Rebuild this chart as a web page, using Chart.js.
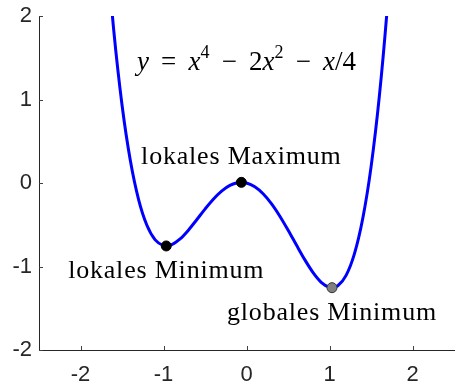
<!DOCTYPE html>
<html lang="de">
<head>
<meta charset="UTF-8">
<title>Extrema</title>
<script src="https://cdn.jsdelivr.net/npm/chart.js"></script>
<style>
  body { margin: 0; background: #fff; }
  #wrap { width: 460px; height: 386px; }
</style>
</head>
<body>
<div id="wrap"><canvas id="curveChart"></canvas></div>
<script>
  // sampled curve y = x^4 - 2x^2 - x/4
  const curveX = [-1.7, -1.6, -1.5, -1.4, -1.3, -1.2, -1.1, -1.0, -0.967, -0.9, -0.8, -0.7, -0.6, -0.5, -0.4, -0.3, -0.2, -0.1, -0.062,
                  0, 0.1, 0.2, 0.3, 0.4, 0.5, 0.6, 0.7, 0.8, 0.9, 1.0, 1.03, 1.1, 1.2, 1.3, 1.4, 1.5, 1.6, 1.7, 1.8];
  const curveY = [2.997, 1.834, 0.9375, 0.2716, -0.1989, -0.5064, -0.6809, -0.75, -0.754, -0.7389, -0.6704, -0.5649, -0.4404, -0.3125, -0.1944, -0.0969, -0.0284, 0.0051, 0.0078,
                  0, -0.0449, -0.1284, -0.2469, -0.3944, -0.5625, -0.7404, -0.9149, -1.0704, -1.1889, -1.25, -1.2535, -1.2309, -1.1064, -0.8489, -0.4284, 0.1875, 1.0336, 2.1471, 3.5676];

  // extrema: local min, local max, global min
  const extremaX = [-0.967, -0.062, 1.03];
  const extremaY = [-0.754, 0.0078, -1.2535];
  const extremaNames = ['lokales Minimum', 'lokales Maximum', 'globales Minimum'];

  const xTicks = [-2, -1, 0, 1, 2];
  const yTicks = [-2, -1, 0, 1, 2];

  const AXIS = '#262626';
  const SERIF = '"Liberation Serif", "Times New Roman", serif';
  const SANS = '"Liberation Sans", Arial, sans-serif';

  // ticks drawn inside the axes box
  const innerTicks = {
    id: 'innerTicks',
    afterDraw(chart) {
      const { ctx, chartArea, scales } = chart;
      ctx.save();
      ctx.strokeStyle = '#404040';
      ctx.lineWidth = 1;
      ctx.beginPath();
      scales.x.ticks.forEach(t => {
        const px = Math.round(scales.x.getPixelForValue(t.value)) + 0.5;
        ctx.moveTo(px, chartArea.bottom);
        ctx.lineTo(px, chartArea.bottom - 4);
      });
      scales.y.ticks.forEach(t => {
        const py = Math.round(scales.y.getPixelForValue(t.value)) + 0.5;
        ctx.moveTo(chartArea.left, py);
        ctx.lineTo(chartArea.left + 4, py);
      });
      ctx.stroke();
      ctx.restore();
    }
  };

  // text labels at the extrema and the formula
  const annotations = {
    id: 'annotations',
    afterDatasetsDraw(chart) {
      const { ctx, scales } = chart;
      const sx = v => scales.x.getPixelForValue(v);
      const sy = v => scales.y.getPixelForValue(v);
      ctx.save();
      ctx.fillStyle = '#000';
      ctx.textAlign = 'center';
      ctx.textBaseline = 'middle';
      ctx.font = '26px ' + SERIF;
      ctx.letterSpacing = '0.8px';
      const offsets = [-0.3, 0.3, -0.3];
      extremaNames.forEach((name, i) => {
        ctx.fillText(name, sx(extremaX[i]), sy(extremaY[i] + offsets[i]));
      });

      // y = x^4 - 2x^2 - x/4
      ctx.letterSpacing = '0px';
      const gap = '\u2009 ';
      const parts = [
        { t: 'y', it: true }, { t: gap + '=' + gap }, { t: 'x', it: true }, { t: '4', sup: true },
        { t: gap + '\u2212' + gap + '2' }, { t: 'x', it: true }, { t: '2', sup: true },
        { t: gap + '\u2212' + gap }, { t: 'x', it: true }, { t: '/4' }
      ];
      const fontFor = p => p.sup ? '18px ' + SERIF : (p.it ? 'italic 27px ' : '27px ') + SERIF;
      let total = 0;
      parts.forEach(p => { ctx.font = fontFor(p); p.w = ctx.measureText(p.t).width; total += p.w; });
      let x = sx(0) - total / 2;
      const base = sy(1.45) + 8;
      ctx.textAlign = 'left';
      ctx.textBaseline = 'alphabetic';
      parts.forEach(p => {
        ctx.font = fontFor(p);
        ctx.fillText(p.t, x, p.sup ? base - 12 : base);
        x += p.w;
      });
      ctx.restore();
    }
  };

  const ctx = document.getElementById('curveChart').getContext('2d');
  new Chart(ctx, {
    type: 'scatter',
    data: {
      datasets: [
        {
          data: extremaX.map((x, i) => ({ x, y: extremaY[i] })),
          pointRadius: 5,
          pointBackgroundColor: ['#000000', '#000000', '#808080'],
          pointBorderColor: ['#000000', '#000000', '#333333'],
          pointBorderWidth: 1,
          order: 0
        },
        {
          data: curveX.map((x, i) => ({ x, y: curveY[i] })),
          showLine: true,
          borderColor: '#0000ff',
          borderWidth: 3,
          pointRadius: 0,
          cubicInterpolationMode: 'monotone',
          order: 1
        }
      ]
    },
    options: {
      responsive: true,
      maintainAspectRatio: false,
      animation: false,
      layout: { padding: { top: 16, right: 4, left: 0, bottom: 0 } },
      plugins: {
        legend: { display: false },
        tooltip: { enabled: false }
      },
      scales: {
        x: {
          min: -2.5,
          max: 2.5,
          afterBuildTicks: s => { s.ticks = xTicks.map(v => ({ value: v })); },
          afterFit: s => { s.height = 36; s.paddingLeft = 0; s.paddingRight = 0; },
          grid: { display: false, drawTicks: false },
          border: { display: true, color: AXIS, width: 1 },
          ticks: {
            color: AXIS,
            padding: 12,
            maxRotation: 0,
            font: { family: SANS, size: 22 }
          }
        },
        y: {
          min: -2,
          max: 2,
          afterBuildTicks: s => { s.ticks = yTicks.map(v => ({ value: v })); },
          afterFit: s => { s.width = 39; s.paddingTop = 0; s.paddingBottom = 0; },
          grid: { display: false, drawTicks: false },
          border: { display: true, color: AXIS, width: 1 },
          ticks: {
            color: AXIS,
            padding: 7,
            font: { family: SANS, size: 22 }
          }
        }
      }
    },
    plugins: [innerTicks, annotations]
  });
</script>
</body>
</html>
